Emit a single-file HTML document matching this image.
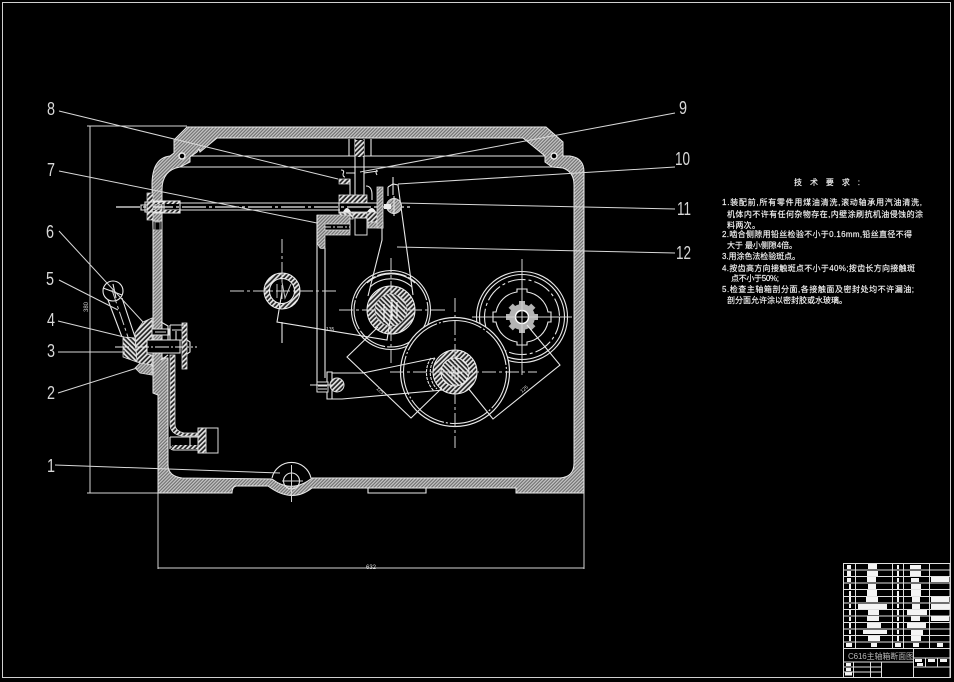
<!DOCTYPE html>
<html><head><meta charset="utf-8"><style>
html,body{margin:0;padding:0;background:#000;width:954px;height:682px;overflow:hidden}
svg{display:block}
.l{fill:none;stroke:#e8e8e8;stroke-width:1.1}
.t{stroke:#d4d4d4;stroke-width:1;fill:none}
.d{stroke-dasharray:14 3 3 3}
.n{font-family:"Liberation Sans",sans-serif;font-size:18px;fill:#d8d8d8}
.c{font-family:"Liberation Sans","Noto Sans CJK SC",sans-serif;font-size:8px;fill:#f4f4f4;stroke:#f4f4f4;stroke-width:.15}
</style></head><body>
<svg width="954" height="682" viewBox="0 0 954 682" xmlns="http://www.w3.org/2000/svg">
<defs>
<pattern id="h" width="2.4" height="2.4" patternUnits="userSpaceOnUse" patternTransform="rotate(45)"><rect width="2.4" height="2.4" fill="#707070"/><rect width="1.2" height="2.4" fill="#c8c8c8"/></pattern>
<pattern id="c" width="3.4" height="3.4" patternUnits="userSpaceOnUse" patternTransform="rotate(45)"><rect width="3.4" height="3.4" fill="#222"/><rect width="1.7" height="3.4" fill="#e6e6e6"/></pattern>
<pattern id="b" width="3.4" height="3.4" patternUnits="userSpaceOnUse" patternTransform="rotate(-45)"><rect width="3.4" height="3.4" fill="#222"/><rect width="1.7" height="3.4" fill="#e6e6e6"/></pattern>
</defs>
<rect width="954" height="682" fill="#000"/>
<rect x="2.5" y="2.5" width="948" height="675" fill="none" stroke="#d0d0d0" stroke-width="1"/>

<!-- casting -->
<path fill="url(#h)" fill-rule="evenodd" stroke="#e8e8e8" stroke-width="1" d="M187,127 L546,127 L563,142 L563,156 L570,156 Q584,158 584,172 L584,493 L516,493 L516,488 L312,488 Q292,504 268,486 L236,486 Q232,487 232,493 L158,493 L158,395 L153,393 L153,230 L152,185 Q152,158 170,156 L174,153 L174,140 Z
M217,138 L523,138 L545,156 L545,162 L552,167 L563,168 Q574,172 574,185 L574,463 Q574,477 560,478 L312,478 Q292,494 272,479 L182,478 Q168,476 168,465 L168,358 L162,358 L162,190 Q162,170 180,167 L190,162 L190,157 L197,152 L199,149 L200,152 Z"/>
<circle cx="182" cy="156" r="3" fill="#000" stroke="#eee" stroke-width="1.4"/>
<circle cx="554" cy="156" r="3" fill="#000" stroke="#eee" stroke-width="1.4"/>
<path class="l" d="M190,156 H545 M180,167 H552"/>
<path class="l" d="M368,488 V493 H426 V488"/>
<!-- wall gap -->
<rect x="153" y="221" width="9" height="9" fill="#000" stroke="#ddd"/>
<rect x="155" y="222" width="5" height="8" fill="#000" stroke="#999"/>

<!-- dims -->
<path class="t" d="M87,126 H187 M90,126 V493 M87,493 H158 M158,493 V569 M584,493 V569 M158,568 H584"/>
<text x="88" y="312" font-family="Liberation Sans" font-size="6" fill="#ccc" transform="rotate(-90 88 312)">380</text>
<text x="366" y="569" font-family="Liberation Sans" font-size="6" fill="#ddd">632</text>

<!-- top center shaft -->
<path class="l" d="M349,139 V156 M371,139 V156 M355,139 V195 M364,139 V195"/>
<rect x="355" y="140" width="9" height="17" fill="url(#c)"/>
<path class="l" d="M341,170 Q345,170 343,174 Q343,177 345,177 M377,170 Q375,172 377,175 M346,173 H355 M364,173 L378,171"/>
<rect x="339" y="179" width="11" height="5" fill="url(#c)" stroke="#ddd" stroke-width=".7"/>
<path class="l" d="M350,179 V195 M366,186 Q372,186 372,195 V200"/>

<!-- horizontal shaft -->
<path class="l" d="M165,203 H340 M165,210 H340"/>
<path stroke="#eee" stroke-width="1.2" fill="none" stroke-dasharray="24 3 3 3" d="M116,207 H412"/>
<rect x="147" y="193" width="6" height="27" fill="url(#c)" stroke="#ddd" stroke-width=".7"/>
<rect x="153" y="201" width="27" height="3" fill="url(#c)"/>
<rect x="153" y="210" width="27" height="3" fill="url(#c)"/>
<path class="l" d="M153,201 H180 V213 H153 M141,205 H147 V210 H141 Z M145,202 H164 V212 H145 Z"/>

<!-- bearing block -->
<rect x="339" y="195" width="28" height="8" fill="url(#c)" stroke="#ddd" stroke-width=".8"/>
<rect x="340" y="212" width="13" height="7" fill="url(#b)" stroke="#ddd" stroke-width=".8"/>
<rect x="353" y="212" width="14" height="6" fill="url(#c)" stroke="#ddd" stroke-width=".8"/>
<path class="l" d="M339,203 V213 H378 V203 Z"/>
<path d="M343,212 Q347,204 351,212 Z M367,212 Q372,204 376,212 Z" fill="#eee"/>
<rect x="367" y="212" width="11" height="10" fill="url(#c)" stroke="#ddd" stroke-width=".7"/>
<rect x="355" y="218" width="12" height="17" fill="#000" stroke="#ddd"/>
<rect x="368" y="222" width="15" height="6" fill="url(#h)" stroke="#ddd" stroke-width=".8"/>
<rect x="377" y="187" width="6" height="41" fill="url(#h)" stroke="#ddd" stroke-width=".8"/>

<!-- second hub -->
<path fill="url(#h)" stroke="#ddd" stroke-width=".8" d="M317,215 H350 V235 H325 V248 Q322,249 320,248 L317,243 Z"/>
<rect x="325" y="224" width="25" height="6" fill="#000" stroke="#ddd" stroke-width=".8"/>
<path stroke="#eee" stroke-dasharray="6 2 2 2" d="M325,227 H350"/>
<path class="l" d="M317,215 V392 M325,248 V378"/>

<!-- lever 12 -->
<path class="l" d="M388,187 L393,184 L398,185 L413,295 M382,228 V240 L368,296 M388,187 V196"/>
<circle cx="394" cy="206" r="7.5" fill="url(#h)" stroke="#ddd"/>
<path class="l" d="M394,196 V216 M393,177 V195"/>
<rect x="384" y="204" width="7" height="5" fill="#eee"/>

<!-- gear A -->
<circle cx="391" cy="310" r="39.5" class="l"/>
<circle cx="391" cy="310" r="37" class="l" stroke-dasharray="30 2"/>
<path class="l" d="M370,287 A31,31 0 0 1 412,287 M367,283 A36,36 0 0 1 415,283"/>
<circle cx="391" cy="310" r="24" fill="url(#c)" stroke="#eee"/>
<circle cx="391" cy="310" r="16" fill="url(#b)" stroke="#ccc" stroke-width=".6"/>
<path d="M384,304 V322 M392,300 V320 M397,302 V318" stroke="#fff" stroke-width="1.1" fill="none"/>
<path class="t d" d="M339,310 H445 M391,258 V363"/>

<!-- small shaft D -->
<circle cx="282" cy="291" r="18" fill="url(#c)" stroke="#eee"/>
<circle cx="282" cy="291" r="12.5" fill="#000" stroke="#eee"/>
<path d="M277,284 V298 M282,282 L285,298 L291,284" fill="none" stroke="#bbb"/>
<path class="t d" d="M230,291 H336 M282,239 V300"/>
<path class="l" d="M282,292 L277,322 L387,340 L391,314 M282,322 V343"/>
<text x="326" y="331" font-family="Liberation Sans" font-size="5" fill="#ddd">135</text>

<!-- gear C -->
<circle cx="522" cy="317" r="45.500" class="l" stroke-width="1.2"/>
<circle cx="522" cy="317" r="42.500" class="l"/>
<circle cx="522" cy="317" r="37.500" class="l" stroke-dasharray="18 3 3 3"/>
<path class="l" d="M517,289 H527 V292 A25,25 0 0 1 548,312 H551 V322 H548 A25,25 0 0 1 527,342 V345 H517 V342 A25,25 0 0 1 496,322 H493 V312 H496 A25,25 0 0 1 517,292 Z"/>
<circle cx="522" cy="317" r="13" fill="#b4b4b4"/>
<g fill="#b4b4b4"><rect x="519" y="301" width="6" height="32"/><rect x="506" y="314" width="32" height="6"/><rect x="519" y="301" width="6" height="32" transform="rotate(45 522 317)"/><rect x="519" y="301" width="6" height="32" transform="rotate(-45 522 317)"/></g>
<circle cx="522" cy="317" r="6.500" fill="#000" stroke="#fff" stroke-width="1.4"/>
<path class="t" d="M472,317 H572 M522,259 V375"/>

<!-- gear B -->
<circle cx="455" cy="372" r="54.500" fill="#000" stroke="#e8e8e8" stroke-width="1.2"/>
<circle cx="455" cy="372" r="51.500" class="l" stroke-dasharray="40 2 2 2"/>
<path class="l" d="M435,358 A24,24 0 0 0 437,389 M431,358 A26,26 0 0 0 434,391" stroke-dasharray="3 1"/>
<circle cx="455" cy="372" r="22" fill="url(#c)" stroke="#eee"/>
<circle cx="455" cy="372" r="14" fill="url(#b)" stroke="#eee"/>
<path d="M452,366 V380 M458,366 V380 M449,373 H462" stroke="#eee" fill="none"/>
<path class="t d" d="M390,372 H537 M455,298 V448"/>

<!-- dim polygons -->
<path class="l" d="M378,327 L347,357 L411,418 L442,388 M468,388 L493,419 L560,365 L527,325"/>
<text x="376" y="389" font-family="Liberation Sans" font-size="5" fill="#ddd" transform="rotate(43 376 389)">125</text>
<text x="522" y="393" font-family="Liberation Sans" font-size="5" fill="#ddd" transform="rotate(-40 522 393)">125</text>

<!-- swing arm -->
<path class="l" d="M327,372 H332 V399 H327 Z M332,373 H363 L435,358 M332,399 H342 L443,390"/>
<circle cx="337" cy="385" r="7" fill="url(#c)" stroke="#ddd"/>
<rect x="317" y="382" width="11" height="10" fill="#000" stroke="#ddd"/>
<path class="l" d="M310,385 H333 M318,386 H327 M318,389 H327"/>

<!-- left assembly -->
<circle cx="113" cy="291" r="10" class="l"/>
<path class="l" d="M103,288 L122,295 M108,300 L122,337 M122,298 L135,337 M113,284 L116,298"/>
<path class="t d" d="M112,290 L128,337"/>
<path fill="url(#c)" stroke="#ddd" stroke-width=".8" d="M135,333 L143,322 L152,318 V342 H147 V354 L152,355 V366 L140,363 L137,362 Z"/>
<path fill="url(#b)" stroke="#ddd" stroke-width=".8" d="M123,337 L135,338 L137,362 L123,357 Z"/>
<path fill="url(#h)" stroke="#ddd" stroke-width=".8" d="M135,368 L140,363 L152,365 V375 L140,373 Z"/>
<path fill="#000" stroke="#eee" d="M147,340 H180 V353 H147 Z"/>
<path stroke="#eee" fill="none" stroke-dasharray="14 2 2 2" d="M115,347 H197"/>
<rect x="182" y="323" width="5" height="46" fill="url(#c)" stroke="#ddd" stroke-width=".8"/>
<path class="l" d="M187,340 L190,342 V352 L187,354 M170,325 H187 M170,325 V340 M172,330 H182 M176,331 V340 M170,340 H182"/>
<rect x="152" y="329" width="17" height="6" fill="#000" stroke="#ddd"/>
<path d="M155,332 H166" stroke="#ddd"/>
<path fill="url(#c)" stroke="#ddd" stroke-width=".8" d="M170,355 H175 V424 Q175,431 184,433 H198 V436 H182 Q170,434 170,424 Z"/>
<path class="l" d="M161,322 L168,326 V340 M161,360 L168,355"/>
<path class="l" d="M170,437 H198 M170,447 H198 M171,449 Q172,450 175,450 H198 M170,437 V449 M190,437 V447"/>
<rect x="172" y="445" width="26" height="4" fill="url(#c)"/>
<rect x="198" y="428" width="8" height="25" fill="url(#c)" stroke="#ddd"/>
<rect x="206" y="428" width="12" height="25" fill="#000" stroke="#ddd"/>

<!-- bottom plug -->
<path class="l" d="M272,478 A20,20 0 0 1 311,478"/>
<circle cx="291.500" cy="481" r="8" class="l"/>
<path class="t" d="M291.500,465 V502 M282,481 H303"/>

<!-- leaders -->
<g stroke="#d8d8d8" stroke-width="1" fill="none">
<path d="M59,111 L338,179 M59,171 L317,223 M675,113 L360,172 M675,167 L398,184 M675,209 L400,203 M675,253 L397,247 M59,231 L143,322 M59,280 L118,310 M58,321 L124,337 M58,352 H125 M58,393 L137,368 M55,465 L280,473"/>
</g>
<g class="n">
<text x="47" y="115" textLength="8" lengthAdjust="spacingAndGlyphs">8</text>
<text x="47" y="176" textLength="8" lengthAdjust="spacingAndGlyphs">7</text>
<text x="46" y="238" textLength="8" lengthAdjust="spacingAndGlyphs">6</text>
<text x="46" y="285" textLength="8" lengthAdjust="spacingAndGlyphs">5</text>
<text x="47" y="326" textLength="8" lengthAdjust="spacingAndGlyphs">4</text>
<text x="47" y="357" textLength="8" lengthAdjust="spacingAndGlyphs">3</text>
<text x="47" y="399" textLength="8" lengthAdjust="spacingAndGlyphs">2</text>
<text x="47" y="472" textLength="8" lengthAdjust="spacingAndGlyphs">1</text>
<text x="679" y="114" textLength="8" lengthAdjust="spacingAndGlyphs">9</text>
<text x="675" y="165" textLength="15" lengthAdjust="spacingAndGlyphs">10</text>
<text x="677" y="215" textLength="14" lengthAdjust="spacingAndGlyphs">11</text>
<text x="676" y="259" textLength="15" lengthAdjust="spacingAndGlyphs">12</text>
</g>

<!-- notes -->
<g class="c">
<text x="794" y="185" textLength="66">技 术 要 求 :</text>
<text x="722" y="205" textLength="200">1.装配前,所有零件用煤油清洗,滚动轴承用汽油清洗,</text>
<text x="727" y="217" textLength="196">机体内不许有任何杂物存在,内壁涂刷抗机油侵蚀的涂</text>
<text x="727" y="228" textLength="33">料两次。</text>
<text x="722" y="237" textLength="190">2.啮合侧隙用铅丝检验不小于0.16mm,铅丝直径不得</text>
<text x="727" y="248" textLength="70">大于 最小侧隙4倍。</text>
<text x="722" y="259" textLength="78">3.用涂色法检验斑点。</text>
<text x="722" y="271" textLength="193">4.按齿高方向接触斑点不小于40%;按齿长方向接触斑</text>
<text x="731" y="281" textLength="48">点不小于50%;</text>
<text x="722" y="292" textLength="192">5.检查主轴箱剖分面,各接触面及密封处均不许漏油;</text>
<text x="727" y="303" textLength="120">剖分面允许涂以密封胶或水玻璃。</text>
</g>

<!-- title block -->
<g fill="none" stroke="#e0e0e0" stroke-width="1">
<rect x="843.500" y="563.500" width="106.500" height="114"/>
<path d="M843,570 H950 M843,576.500 H950 M843,583 H950 M843,589.500 H950 M843,596.500 H950 M843,603 H950 M843,609.500 H950 M843,616 H950 M843,622.500 H950 M843,629 H950 M843,635.500 H950 M843,642 H950 M843,648.500 H950"/>
<path d="M855.500,563 V648 M892.500,563 V648 M903.500,563 V648 M929.500,563 V648"/>
<path d="M843,662 H913 M913.500,649 V677 M913,658 H950 M913,667 H950 M925.500,658 V667 M937.500,658 V667 M881.500,662 V677 M853.500,662 V677 M870.500,662 V677 M843,667 H881 M843,672 H881"/>
</g>
<g fill="#f4f4f4">
<rect x="847" y="565" width="4" height="4"/><rect x="868" y="564" width="9" height="5"/><rect x="897" y="565" width="2" height="4"/><rect x="910" y="565" width="11" height="4"/>
<rect x="847" y="571" width="4" height="5"/><rect x="867" y="571" width="11" height="5"/><rect x="897" y="571" width="2" height="5"/><rect x="910" y="571" width="11" height="5"/>
<rect x="847" y="578" width="4" height="4"/><rect x="867" y="577" width="9" height="5"/><rect x="897" y="578" width="2" height="4"/><rect x="911" y="578" width="8" height="4"/><rect x="931" y="577" width="18" height="5"/>
<rect x="849" y="584" width="2" height="5"/><rect x="868" y="584" width="8" height="5"/><rect x="897" y="584" width="2" height="5"/><rect x="911" y="584" width="10" height="5"/>
<rect x="849" y="591" width="2" height="5"/><rect x="867" y="590" width="10" height="6"/><rect x="897" y="591" width="2" height="5"/><rect x="911" y="590" width="10" height="6"/>
<rect x="849" y="597" width="2" height="5"/><rect x="866" y="597" width="12" height="5"/><rect x="897" y="597" width="2" height="5"/><rect x="912" y="597" width="8" height="5"/><rect x="931" y="597" width="18" height="5"/>
<rect x="849" y="604" width="2" height="4"/><rect x="858" y="604" width="29" height="5"/><rect x="897" y="604" width="2" height="4"/><rect x="912" y="604" width="8" height="5"/><rect x="931" y="604" width="19" height="5"/>
<rect x="849" y="610" width="2" height="5"/><rect x="868" y="610" width="11" height="5"/><rect x="897" y="610" width="2" height="5"/><rect x="907" y="610" width="20" height="5"/>
<rect x="849" y="617" width="2" height="4"/><rect x="867" y="616" width="12" height="5"/><rect x="897" y="617" width="2" height="4"/><rect x="911" y="616" width="9" height="5"/><rect x="931" y="616" width="18" height="5"/>
<rect x="849" y="623" width="2" height="5"/><rect x="867" y="623" width="14" height="5"/><rect x="897" y="623" width="2" height="5"/><rect x="907" y="623" width="19" height="5"/>
<rect x="849" y="630" width="2" height="4"/><rect x="863" y="630" width="24" height="4"/><rect x="897" y="630" width="2" height="4"/><rect x="911" y="630" width="12" height="5"/>
<rect x="849" y="636" width="2" height="5"/><rect x="868" y="636" width="12" height="5"/><rect x="897" y="636" width="2" height="5"/><rect x="911" y="636" width="10" height="5"/>
<rect x="846" y="643" width="6" height="4"/><rect x="871" y="643" width="6" height="4"/><rect x="895" y="643" width="6" height="4"/><rect x="913" y="643" width="6" height="4"/><rect x="937" y="643" width="6" height="4"/>
<rect x="846" y="663" width="5" height="3"/><rect x="846" y="668" width="5" height="3"/><rect x="845" y="672.500" width="7" height="3"/>
<rect x="915" y="659" width="7" height="3"/><rect x="928" y="659" width="7" height="3"/><rect x="940" y="659" width="7" height="3"/><rect x="917" y="663" width="6" height="3"/>
</g>
<text x="848" y="659" textLength="66" font-family="Liberation Sans,Noto Sans CJK SC,sans-serif" font-size="8" fill="#bbb">C616主轴箱断面图</text>
</svg>
</body></html>
